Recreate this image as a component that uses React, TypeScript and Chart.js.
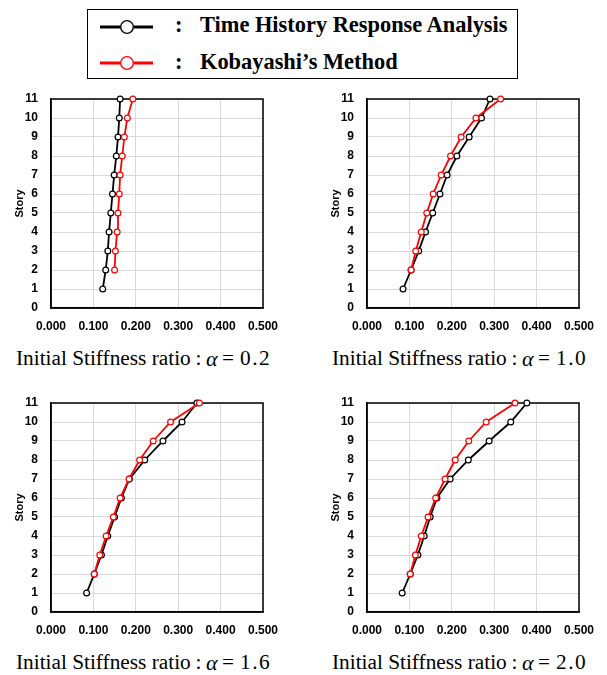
import React, { useEffect, useRef } from "react";
import { Chart, registerables } from "chart.js";

Chart.register(...registerables);

// ---------- data ----------
const storiesTHA = [1, 2, 3, 4, 5, 6, 7, 8, 9, 10, 11];
const storiesKob = [2, 3, 4, 5, 6, 7, 8, 9, 10, 11];

const alphaLabels = ["0.2", "1.0", "1.6", "2.0"];

// Time History Response Analysis (story 1..11)
const tha02 = [0.122, 0.129, 0.134, 0.137, 0.141, 0.145, 0.149, 0.154, 0.158, 0.161, 0.163];
const tha10 = [0.085, 0.104, 0.122, 0.138, 0.155, 0.172, 0.189, 0.212, 0.241, 0.270, 0.290];
const tha16 = [0.084, 0.102, 0.119, 0.134, 0.150, 0.166, 0.185, 0.221, 0.264, 0.309, 0.344];
const tha20 = [0.083, 0.102, 0.120, 0.135, 0.149, 0.165, 0.196, 0.239, 0.288, 0.339, 0.377];

// Kobayashi's Method (story 2..11)
const kob02 = [0.150, 0.152, 0.156, 0.158, 0.161, 0.163, 0.168, 0.173, 0.180, 0.193];
const kob10 = [0.104, 0.115, 0.128, 0.141, 0.156, 0.175, 0.197, 0.222, 0.257, 0.315];
const kob16 = [0.102, 0.115, 0.130, 0.147, 0.163, 0.184, 0.209, 0.241, 0.282, 0.350];
const kob20 = [0.102, 0.114, 0.128, 0.144, 0.162, 0.184, 0.208, 0.240, 0.281, 0.349];

const xMin = 0;
const xMax = 0.5;
const xStep = 0.1;
const yMin = 0;
const yMax = 11;
const yStep = 1;
const yTitle = "Story";
const legendTHA = "Time History Response Analysis";
const legendKob = "Kobayashi\u2019s Method";
const captionPrefix = "Initial Stiffness ratio";

const panels = [
  { tha: tha02, kob: kob02, alpha: alphaLabels[0], left: 0, top: 85, capLeft: 16, capTop: 348.2 },
  { tha: tha10, kob: kob10, alpha: alphaLabels[1], left: 316, top: 85, capLeft: 332, capTop: 348.2 },
  { tha: tha16, kob: kob16, alpha: alphaLabels[2], left: 0, top: 389, capLeft: 16, capTop: 652.2 },
  { tha: tha20, kob: kob20, alpha: alphaLabels[3], left: 316, top: 389, capLeft: 332, capTop: 652.2 },
];

const SANS = "'Liberation Sans', Arial, sans-serif";
const SERIF = "'Liberation Serif', 'Times New Roman', serif";

const framePlugin = {
  id: "frame",
  beforeDatasetsDraw(chart: any) {
    const { ctx, chartArea } = chart;
    ctx.save();
    ctx.strokeStyle = "#000";
    ctx.lineWidth = 1.5;
    ctx.strokeRect(chartArea.left, chartArea.top, chartArea.right - chartArea.left, chartArea.bottom - chartArea.top);
    ctx.restore();
  },
};

function Panel({ tha, kob }: { tha: number[]; kob: number[] }) {
  const ref = useRef<HTMLCanvasElement | null>(null);
  useEffect(() => {
    if (!ref.current) return;
    const tickFont = { family: SANS, size: 12, weight: "bold" as const };
    const chart = new Chart(ref.current, {
      type: "scatter",
      data: {
        datasets: [
          {
            label: legendKob,
            data: kob.map((x, i) => ({ x, y: storiesKob[i] })),
            showLine: true,
            borderColor: "#ff0000",
            backgroundColor: "#ffffff",
            pointBackgroundColor: "#ffffff",
            pointBorderColor: "#ff0000",
            borderWidth: 1.8,
            pointRadius: 2.9,
            pointBorderWidth: 1.2,
            clip: false,
          } as any,
          {
            label: legendTHA,
            data: tha.map((x, i) => ({ x, y: storiesTHA[i] })),
            showLine: true,
            borderColor: "#000000",
            backgroundColor: "#ffffff",
            pointBackgroundColor: "#ffffff",
            pointBorderColor: "#000000",
            borderWidth: 1.8,
            pointRadius: 2.9,
            pointBorderWidth: 1.2,
            clip: false,
          } as any,
        ],
      },
      options: {
        animation: false,
        responsive: false,
        maintainAspectRatio: false,
        layout: { padding: { top: 14, right: 27, left: 0, bottom: 0 } },
        plugins: { legend: { display: false }, tooltip: { enabled: false } },
        scales: {
          x: {
            type: "linear",
            min: xMin,
            max: xMax,
            ticks: {
              stepSize: xStep,
              callback: (v: any) => Number(v).toFixed(3),
              font: tickFont,
              color: "#000",
              padding: 11,
              maxRotation: 0,
              autoSkip: false,
            },
            grid: { color: "#d9d9d9", drawTicks: false, lineWidth: 1 },
            border: { color: "#000", width: 1.5 },
            afterFit: (s: any) => {
              s.height = 22;
              s.paddingLeft = 0;
              s.paddingRight = 0;
            },
          },
          y: {
            type: "linear",
            min: yMin,
            max: yMax,
            ticks: {
              stepSize: yStep,
              font: tickFont,
              color: "#000",
              padding: 13,
              autoSkip: false,
            },
            grid: { color: "#d9d9d9", drawTicks: false, lineWidth: 1 },
            border: { color: "#000", width: 1.5 },
            title: {
              display: true,
              text: yTitle,
              color: "#000",
              font: { family: SANS, size: 11, weight: "bold" },
              padding: { top: 13.4, bottom: 0 },
            },
            afterFit: (s: any) => {
              s.width = 51;
              s.paddingTop = 0;
              s.paddingBottom = 0;
            },
          },
        },
      } as any,
      plugins: [framePlugin],
    });
    return () => chart.destroy();
  }, [tha, kob]);
  return <canvas ref={ref} width={290} height={245} style={{ width: 290, height: 245, display: "block" }} />;
}

function LegendMarker({ color }: { color: string }) {
  return (
    <svg width={60} height={16} style={{ display: "block" }}>
      <line x1={0} y1={8} x2={53} y2={8} stroke={color} strokeWidth={3} />
      <circle cx={27} cy={8} r={6.3} fill="#fff" stroke={color} strokeWidth={1.3} />
    </svg>
  );
}

export default function App() {
  const legendText: React.CSSProperties = {
    position: "absolute",
    fontFamily: SERIF,
    fontWeight: "bold",
    fontSize: 22.4,
    lineHeight: "22.4px",
    whiteSpace: "nowrap",
    color: "#000",
  };
  const capPiece: React.CSSProperties = {
    position: "absolute",
    top: 0,
    fontFamily: SERIF,
    fontSize: 21.3,
    lineHeight: "21.3px",
    whiteSpace: "nowrap",
    color: "#000",
  };
  return (
    <div style={{ position: "absolute", left: 0, top: 0, width: 607, height: 675, background: "#fff", overflow: "hidden" }}>
      {/* legend */}
      <div
        style={{
          position: "absolute",
          left: 87,
          top: 9,
          width: 431,
          height: 70,
          border: "1.5px solid #000",
          boxSizing: "border-box",
        }}
      />
      <div style={{ position: "absolute", left: 100, top: 19 }}>
        <LegendMarker color="#000000" />
      </div>
      <div style={{ position: "absolute", left: 100, top: 55 }}>
        <LegendMarker color="#ff0000" />
      </div>
      <div style={{ ...legendText, left: 175, top: 14.2 }}>:</div>
      <div style={{ ...legendText, left: 175, top: 51.2 }}>:</div>
      <div style={{ ...legendText, left: 200, top: 14.2 }}>{legendTHA}</div>
      <div style={{ ...legendText, left: 200, top: 51.2 }}>{legendKob}</div>

      {panels.map((p, i) => (
        <div key={i} style={{ position: "absolute", left: p.left, top: p.top }}>
          <Panel tha={p.tha} kob={p.kob} />
        </div>
      ))}

      {panels.map((p, i) => (
        <div key={"c" + i} style={{ position: "absolute", left: p.capLeft, top: p.capTop }}>
          <span style={{ ...capPiece, left: 0 }}>{captionPrefix}</span>
          <span style={{ ...capPiece, left: 179.5 }}>:</span>
          <span style={{ ...capPiece, left: 190, fontStyle: "italic", fontSize: 22 }}>α</span>
          <span style={{ ...capPiece, left: 206 }}>=</span>
          <span style={{ ...capPiece, left: 224, letterSpacing: 1.5 }}>{p.alpha}</span>
        </div>
      ))}
    </div>
  );
}
